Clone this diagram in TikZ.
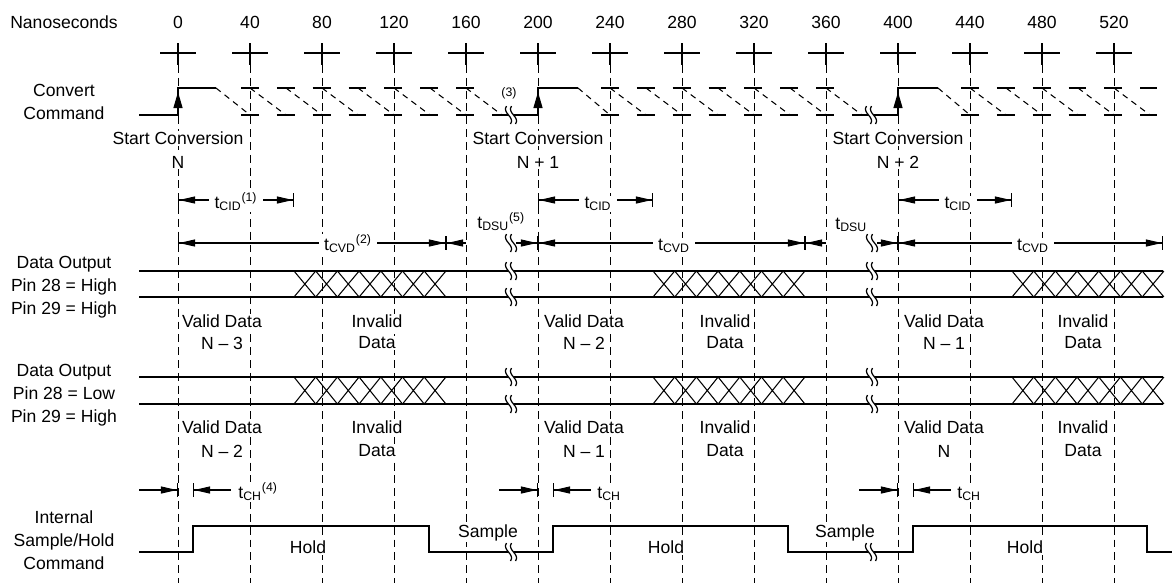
\documentclass[tikz,border=0pt]{standalone}
\usepackage{fontspec}
\setmainfont{Liberation Sans}
\usetikzlibrary{arrows.meta}

\tikzset{
  dtri/.tip={Triangle[length=3.2mm,width=1.4mm]},
  dbar/.tip={Bar[width=2.8mm]},
  wavebrk/.pic={
    \fill[white] (-4.5,-9) .. controls (-9.5,-2) and (4.5,2) .. (-0.5,9) -- (4.5,9) .. controls (9.5,2) and (-4.5,-2) .. (0.5,-9) -- cycle;
    \draw[sig] (-4.5,-9) .. controls (-9.5,-2) and (4.5,2) .. (-0.5,9)
      (0.5,-9) .. controls (-4.5,-2) and (9.5,2) .. (4.5,9);
  }
}

\begin{document}
\begin{tikzpicture}[x=0.02cm, y=-0.02cm,
  every node/.style={font=\fontsize{10}{13}\selectfont},
  sig/.style={line width=0.7pt},
  tickline/.style={line width=0.55pt, dash pattern=on 4.5pt off 2.8pt},
  hatch/.style={line width=0.6pt, dash pattern=on 3.4pt off 2.8pt},
  hdash/.style={line width=0.7pt, dash pattern=on 10.2pt off 10.2pt},
  dim/.style={line width=0.6pt, {dbar[]dtri[]}-{dtri[]dbar[]}},
  txt/.style={fill=white, inner sep=0.6pt},
  dimlbl/.style={fill=white, inner xsep=3pt, inner ysep=0.5pt, anchor=base}]
\useasboundingbox (0,0) rectangle (1172,583);

% time axis
\node (nslbl) at (64,22) {Nanoseconds};
\foreach \t in {0,40,...,520}
{
\pgfmathsetmacro\xx{178+1.8*\t}
\node (ns\t) at (\xx,22) {\t};
\draw[sig] (\xx-18,53) -- (\xx+18,53) (\xx,43) -- (\xx,65);
\draw[tickline] (\xx,65) -- (\xx,583);
}

% signal names
\node[align=center] (conv) at (64,102) {Convert\\Command};
\node[align=center] (dout1) at (64,287) {Data Output\\Pin 28 = High\\Pin 29 = High};
\node[align=center] (dout2) at (64,395) {Data Output\\Pin 28 = Low\\Pin 29 = High};
\node[align=center] (shcmd) at (64,540) {Internal\\Sample/Hold\\Command};

% convert command
\draw[sig] (139,115) -- (178,115) -- (178,88) -- (216,88);
\draw[sig] (505,115) -- (538,115) -- (538,88) -- (578,88);
\draw[sig] (866,115) -- (898,115) -- (898,88) -- (938,88);
\foreach \x in {178,538,898}
\draw[sig,-{Triangle[length=3.2mm,width=1.8mm]}] (\x,115) -- (\x,92);
\draw[hatch] (216,88) -- (250,115) (578,88) -- (610,115) (938,88) -- (970,115);
\foreach \x in {250,286,...,466} \draw[hatch] (\x,88) -- (\x+36,115);
\foreach \x in {610,646,...,826} \draw[hatch] (\x,88) -- (\x+36,115);
\foreach \x in {970,1006,...,1114} \draw[hatch] (\x,88) -- (\x+36,115);
\draw[hdash] (241,88) -- (475,88) (241,115) -- (505,115);
\draw[hdash] (601,88) -- (835,88) (601,115) -- (866,115);
\draw[hdash] (961,88) -- (1157,88) (961,115) -- (1157,115);
\pic at (511,115) {wavebrk};
\pic at (871,115) {wavebrk};
\node[font=\fontsize{7}{8}\selectfont] (note3) at (509,93) {(3)};

\node[txt] (sc1) at (178,138) {Start Conversion};
\node[txt] (n1) at (178,162) {N};
\node[txt] (sc2) at (538,138) {Start Conversion};
\node[txt] (n2) at (538,162) {N + 1};
\node[txt] (sc3) at (898,138) {Start Conversion};
\node[txt] (n3) at (898,162) {N + 2};

% timing arrows
\draw[dim] (178,200) -- (294,200);
\draw[dim] (538,200) -- (653,200);
\draw[dim] (898,200) -- (1012,200);
\node[dimlbl] (cid1) at (236,208) {t\textsubscript{CID}\textsuperscript{(1)}};
\node[dimlbl] (cid2) at (598,208) {t\textsubscript{CID}};
\node[dimlbl] (cid3) at (958,208) {t\textsubscript{CID}};

\draw[dim] (178,243) -- (446,243);
\draw[dim] (538,243) -- (805,243);
\draw[dim] (898,243) -- (1163,243);
\node[dimlbl] (cvd1) at (348,250) {t\textsubscript{CVD}\textsuperscript{(2)}};
\node[dimlbl] (cvd2) at (674,250) {t\textsubscript{CVD}};
\node[dimlbl] (cvd3) at (1033,250) {t\textsubscript{CVD}};

\draw[line width=0.6pt,{dbar[]dtri[]}-] (446,243) -- (466,243);
\draw[line width=0.6pt,-{dtri[]dbar[]}] (516,243) -- (538,243);
\draw[line width=0.6pt,{dbar[]dtri[]}-] (805,243) -- (826,243);
\draw[line width=0.6pt,-{dtri[]dbar[]}] (877,243) -- (898,243);
\pic at (511,243) {wavebrk};
\pic at (872,243) {wavebrk};
\node[txt,anchor=base west] (dsu1) at (476,228) {t\textsubscript{DSU}\textsuperscript{(5)}};
\node[txt,anchor=base west] (dsu2) at (834,229) {t\textsubscript{DSU}};

% data outputs
\foreach \y in {271,297,377,404}
{
\draw[sig] (139,\y) -- (1163,\y);
\pic at (511,\y) {wavebrk};
\pic at (872,\y) {wavebrk};
}
\foreach \xa in {294,653,1012}
\foreach \yt/\yb in {271/297,377/404}
\foreach \k in {0,...,6}
{
\draw[line width=0.6pt] (\xa+21.7*\k,\yt) -- (\xa+21.7*\k+21.7,\yb)
  (\xa+21.7*\k,\yb) -- (\xa+21.7*\k+21.7,\yt);
}

\node[txt] (va1) at (222,321) {Valid Data};
\node[txt] (vb1) at (222,343) {N -- 3};
\node[txt] (ia1) at (377,321) {Invalid};
\node[txt] (ib1) at (377,343) {Data};
\node[txt] (va2) at (584,321) {Valid Data};
\node[txt] (vb2) at (584,343) {N -- 2};
\node[txt] (ia2) at (725,321) {Invalid};
\node[txt] (ib2) at (725,343) {Data};
\node[txt] (va3) at (944,321) {Valid Data};
\node[txt] (vb3) at (944,343) {N -- 1};
\node[txt] (ia3) at (1083,321) {Invalid};
\node[txt] (ib3) at (1083,343) {Data};

\node[txt] (vc1) at (222,427) {Valid Data};
\node[txt] (vd1) at (222,451) {N -- 2};
\node[txt] (ic1) at (377,427) {Invalid};
\node[txt] (id1) at (377,451) {Data};
\node[txt] (vc2) at (584,427) {Valid Data};
\node[txt] (vd2) at (584,451) {N -- 1};
\node[txt] (ic2) at (725,427) {Invalid};
\node[txt] (id2) at (725,451) {Data};
\node[txt] (vc3) at (944,427) {Valid Data};
\node[txt] (vd3) at (944,451) {N};
\node[txt] (ic3) at (1083,427) {Invalid};
\node[txt] (id3) at (1083,451) {Data};

% hold delay
\foreach \x/\xb in {178/193,538/553,898/913}
{
\draw[line width=0.6pt,-{dtri[]dbar[]}] (\x-39,490) -- (\x,490);
\draw[line width=0.6pt,{dbar[]dtri[]}-] (\xb,490) -- (\xb+38,490);
}
\node[txt,anchor=base west] (ch1) at (237,498) {t\textsubscript{CH}\textsuperscript{(4)}};
\node[txt,anchor=base west] (ch2) at (596,498) {t\textsubscript{CH}};
\node[txt,anchor=base west] (ch3) at (956,498) {t\textsubscript{CH}};

% sample/hold
\draw[sig] (139,552) -- (193,552) -- (193,526) -- (429,526) -- (429,552)
  -- (553,552) -- (553,526) -- (788,526) -- (788,552) -- (913,552)
  -- (913,526) -- (1147,526) -- (1147,552) -- (1172,552);
\pic at (511,552) {wavebrk};
\pic at (871,552) {wavebrk};
\node[txt] (hold1) at (308,547) {Hold};
\node[txt] (hold2) at (666,547) {Hold};
\node[txt] (hold3) at (1025,547) {Hold};
\node[txt] (smp1) at (488,533) {Sample};
\node[txt] (smp2) at (845,533) {Sample};
\end{tikzpicture}
\end{document}
